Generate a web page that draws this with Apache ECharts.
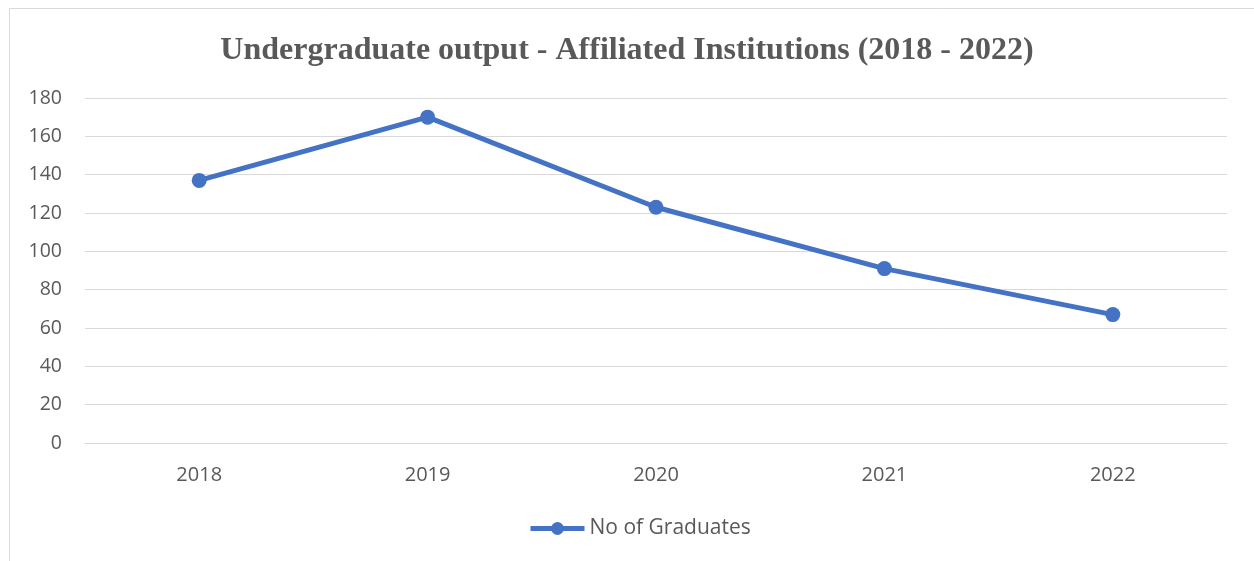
<!DOCTYPE html>
<html>
<head>
<meta charset="utf-8">
<script src="https://cdn.jsdelivr.net/npm/echarts@6/dist/echarts.min.js"></script>
<style>
    html, body { margin: 0; padding: 0; background: #fff; }
    #main { width: 1254px; height: 561px; }
</style>
</head>
<body>
<div id="main"></div>
<script>
var years = ['2018', '2019', '2020', '2021', '2022'];
var graduates = [137, 170, 123, 91, 67];
var seriesName = 'No of Graduates';
var titleText = 'Undergraduate output - Affiliated Institutions (2018 - 2022)';

var myChart = echarts.init(document.getElementById('main'));
var option = {
    backgroundColor: '#fff',
    graphic: [
        {
            type: 'rect',
            shape: { x: 9.5, y: 8.5, width: 1260, height: 570 },
            style: { fill: 'none', stroke: '#d9d9d9', lineWidth: 1 },
            silent: true
        }
    ],
    title: {
        text: titleText,
        left: 'center',
        top: 30,
        textStyle: {
            fontFamily: 'Liberation Serif',
            fontWeight: 'bold',
            fontSize: 32,
            color: '#595959'
        }
    },
    grid: {
        left: 85,
        right: 27,
        top: 98,
        bottom: 118
    },
    legend: {
        data: [seriesName],
        bottom: 17,
        left: 523,
        itemWidth: 54,
        itemHeight: 16,
        itemGap: 0,
        lineStyle: { width: 5 },
        textStyle: {
            fontFamily: 'Open Sans',
            fontSize: 21,
            color: '#595959',
            padding: [0, 0, 0, 0]
        }
    },
    xAxis: {
        type: 'category',
        data: years,
        boundaryGap: true,
        axisLine: { lineStyle: { color: '#d9d9d9', width: 1 } },
        axisTick: { show: false },
        axisLabel: {
            fontFamily: 'Open Sans',
            fontSize: 20,
            color: '#595959',
            margin: 22
        }
    },
    yAxis: {
        type: 'value',
        min: 0,
        max: 180,
        interval: 20,
        axisLine: { show: false },
        axisTick: { show: false },
        axisLabel: {
            fontFamily: 'Open Sans',
            fontSize: 19.5,
            color: '#595959',
            margin: 23
        },
        splitLine: { lineStyle: { color: '#d9d9d9', width: 1 } }
    },
    series: [
        {
            name: seriesName,
            type: 'line',
            data: graduates,
            symbol: 'circle',
            symbolSize: 15,
            lineStyle: { color: '#4472c4', width: 5 },
            itemStyle: { color: '#4472c4' },
            animation: false
        }
    ]
};
myChart.setOption(option);
</script>
</body>
</html>
